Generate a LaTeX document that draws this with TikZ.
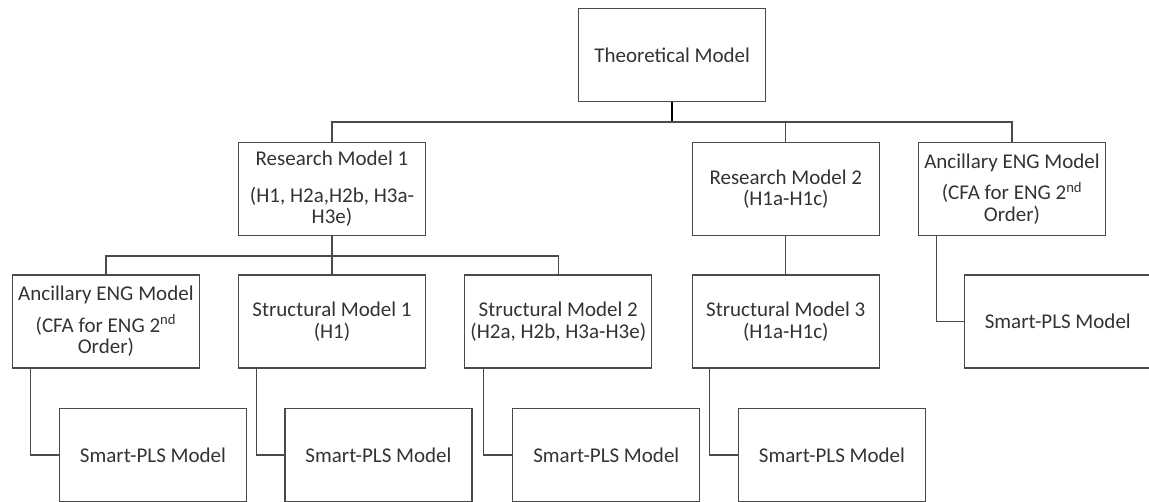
\documentclass[tikz,border=0pt]{standalone}
\usepackage{fontspec}
\setmainfont{Carlito}
\definecolor{linec}{HTML}{4A4A4A}
\definecolor{textc}{HTML}{333333}
\begin{document}
\begin{tikzpicture}[x=1pt,y=-1pt,
  box/.style={draw=linec, line width=1.3pt, minimum width=187pt, minimum height=93pt,
    inner sep=0pt, align=center, text=textc, font=\fontsize{21}{21.5}\selectfont},
  conn/.style={draw=linec, line width=1.3pt},
  thickconn/.style={draw=black, line width=2pt}]
\useasboundingbox (0,0) rectangle (1149,502);
% level 0
\node[box] (tm) at (672.2,55) {Theoretical Model};
% level 1
\node[box] (rm1) at (332,189) {Research Model 1\\[15pt](H1, H2a,H2b, H3a-\\H3e)};
\node[box] (rm2) at (785.8,189) {Research Model 2\\(H1a-H1c)};
\node[box] (ancR) at (1012,189) {Ancillary ENG Model\\[10pt](CFA for ENG 2\textsuperscript{nd}\\Order)};
% level 2
\node[box] (ancL) at (105.9,321.5) {Ancillary ENG Model\\[10pt](CFA for ENG 2\textsuperscript{nd}\\Order)};
\node[box] (sm1) at (332,321.5) {Structural Model 1\\(H1)};
\node[box] (sm2) at (558.3,321.5) {Structural Model 2\\(H2a, H2b, H3a-H3e)};
\node[box] (sm3) at (785.8,321.5) {Structural Model 3\\(H1a-H1c)};
\node[box] (splsR) at (1057.8,321.5) {Smart-PLS Model};
% level 3
\node[box] (p1) at (153,455) {Smart-PLS Model};
\node[box] (p2) at (378.5,455) {Smart-PLS Model};
\node[box] (p3) at (606.3,455) {Smart-PLS Model};
\node[box] (p4) at (832,455) {Smart-PLS Model};
% bus coordinates
\coordinate (busA) at (0,122);
\coordinate (busB) at (0,256);
% connectors level 0 -> 1
\draw[thickconn] (tm.south) -- (tm.south |- busA);
\draw[conn] (rm1.north) -- (rm1.north |- busA) -- (ancR.north |- busA) -- (ancR.north);
\draw[conn] (rm2.north) -- (rm2.north |- busA);
% level 1 -> 2
\draw[conn] (rm1.south) -- (sm1.north);
\draw[conn] (ancL.north) -- (ancL.north |- busB) -- (sm2.north |- busB) -- (sm2.north);
\draw[conn] (rm2.south) -- (sm3.north);
\draw[conn] ([xshift=18.5pt]ancR.south west) |- (splsR.west);
% level 2 -> 3
\draw[conn] ([xshift=19pt]ancL.south west) |- (p1.west);
\draw[conn] ([xshift=18.5pt]sm1.south west) |- (p2.west);
\draw[conn] ([xshift=19pt]sm2.south west) |- (p3.west);
\draw[conn] ([xshift=18pt]sm3.south west) |- (p4.west);
\end{tikzpicture}
\end{document}
